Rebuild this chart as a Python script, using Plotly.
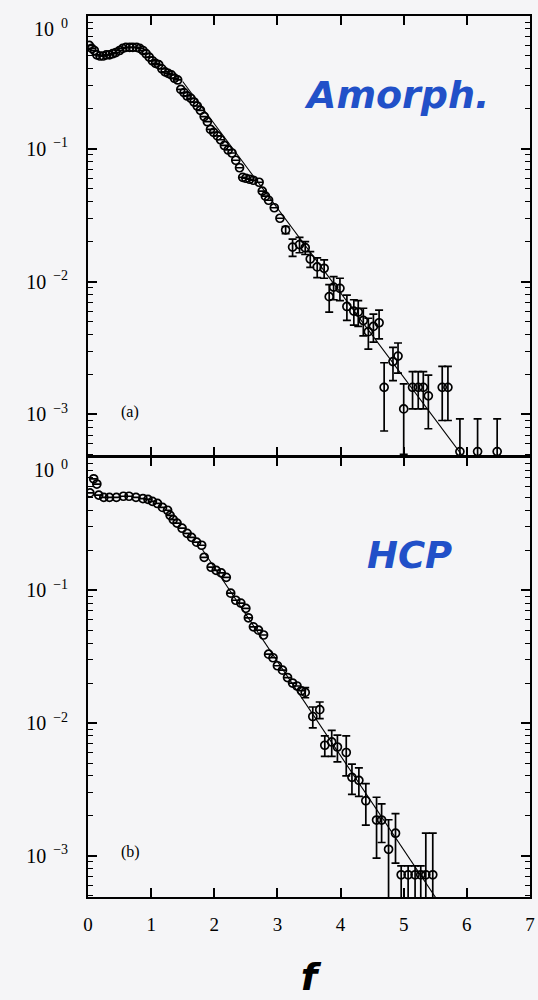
import plotly.graph_objects as go

# ---------------- data ----------------
# (a) amorphous packing: distribution of normalised force f
amorph_f = [0.02, 0.06, 0.10, 0.14, 0.19, 0.24, 0.29, 0.34, 0.39, 0.44, 0.50, 0.55,
            0.60, 0.66, 0.71, 0.77, 0.82, 0.87, 0.92, 0.97, 1.02, 1.07, 1.12, 1.17,
            1.22, 1.27, 1.32, 1.37, 1.42, 1.47, 1.52, 1.57, 1.63, 1.68, 1.73, 1.78,
            1.84, 1.89, 1.94, 1.99, 2.05, 2.10, 2.16, 2.22, 2.28, 2.34, 2.40, 2.45,
            2.50, 2.56, 2.62, 2.71, 2.76, 2.81, 2.86, 2.95, 3.04,
            3.13, 3.24, 3.35, 3.44, 3.52, 3.63, 3.74, 3.82, 3.89, 3.99, 4.10, 4.21,
            4.28, 4.36, 4.44, 4.52, 4.61, 4.69, 4.83, 4.91, 5.00, 5.14, 5.23, 5.31,
            5.39, 5.61, 5.70, 5.89, 6.17, 6.48]
amorph_p = [0.60, 0.57, 0.55, 0.51, 0.50, 0.50, 0.51, 0.51, 0.52, 0.53, 0.55, 0.57,
            0.58, 0.58, 0.58, 0.58, 0.57, 0.55, 0.52, 0.49, 0.46, 0.44, 0.43, 0.40,
            0.38, 0.37, 0.36, 0.34, 0.33, 0.28, 0.265, 0.25, 0.24, 0.225, 0.21, 0.195,
            0.175, 0.16, 0.14, 0.133, 0.125, 0.117, 0.106, 0.098, 0.093, 0.082, 0.072, 0.061,
            0.060, 0.059, 0.058, 0.056, 0.048, 0.044, 0.041, 0.036, 0.030,
            0.0245, 0.0182, 0.019, 0.018, 0.0148, 0.0129, 0.0126, 0.0077, 0.0091, 0.0089, 0.0065, 0.0060,
            0.0059, 0.0051, 0.0042, 0.0046, 0.0049, 0.0016, 0.0025, 0.00275, 0.0011, 0.0016, 0.0016, 0.0016,
            0.00138, 0.0016, 0.0016, 0.000525, 0.000525, 0.000525]
amorph_err = [0.0] * 57 + [
            0.0015, 0.0027, 0.0025, 0.0020, 0.0020, 0.0022, 0.0020, 0.0018, 0.0018, 0.0017, 0.0014, 0.0013,
            0.0013, 0.0012, 0.0011, 0.0011, 0.0012, 0.00085, 0.0007, 0.0007, 0.0006, 0.0005, 0.0005, 0.0005,
            0.0006, 0.0007, 0.0007, 0.0004, 0.0004, 0.0004]

# exponential fit, drawn between two end points
amorph_fit_f = [1.5, 6.1]
amorph_fit_p = [0.321, 0.00038]

# (b) hexagonal close packed
hcp_f = [0.03, 0.09, 0.14, 0.17, 0.25, 0.34, 0.45, 0.56, 0.65, 0.76, 0.87, 0.95,
         1.02, 1.10, 1.18, 1.26, 1.30, 1.35, 1.41, 1.49, 1.57, 1.64, 1.72, 1.80,
         1.84, 1.95, 2.03, 2.11, 2.19, 2.26, 2.34, 2.42, 2.50, 2.54, 2.62, 2.70,
         2.78, 2.86, 2.93, 3.00, 3.08, 3.16, 3.24, 3.31, 3.38,
         3.44, 3.56, 3.67, 3.75, 3.86, 3.95, 4.09, 4.18, 4.29, 4.40, 4.57, 4.65,
         4.76, 4.87, 4.96, 5.07, 5.18, 5.27, 5.35, 5.46]
hcp_p = [0.54, 0.69, 0.63, 0.52, 0.50, 0.50, 0.50, 0.51, 0.51, 0.50, 0.49, 0.483,
         0.467, 0.45, 0.42, 0.40, 0.366, 0.34, 0.32, 0.293, 0.268, 0.25, 0.23, 0.218,
         0.177, 0.149, 0.141, 0.135, 0.125, 0.095, 0.084, 0.080, 0.073, 0.062, 0.053, 0.050,
         0.046, 0.033, 0.031, 0.027, 0.025, 0.022, 0.020, 0.019, 0.0175,
         0.017, 0.0112, 0.0126, 0.0068, 0.0072, 0.0066, 0.0060, 0.0039, 0.0037, 0.0026, 0.00186, 0.00186,
         0.00112, 0.00148, 0.00072, 0.00072, 0.00072, 0.00072, 0.00072, 0.00072]
hcp_err_up = [0.0] * 45 + [
         0.0015, 0.0020, 0.0018, 0.0012, 0.0016, 0.0015, 0.0020, 0.0010, 0.0009, 0.0009, 0.0009, 0.0006,
         0.00075, 0.0006, 0.00012, 0.00012, 0.00012, 0.00012, 0.00076, 0.00076]
hcp_err_down = [0.0] * 45 + [
         0.0015, 0.0020, 0.0018, 0.0012, 0.0016, 0.0015, 0.0020, 0.0010, 0.0009, 0.0009, 0.0009, 0.0006,
         0.00075, 0.0006, 0.0007, 0.0007, 0.0007, 0.0007, 0.0007, 0.0007]

hcp_fit_f = [1.8, 5.8]
hcp_fit_p = [0.206, 0.0003]

x_ticks = [0, 1, 2, 3, 4, 5, 6, 7]
y_ticks = [1, 0.1, 0.01, 0.001]
# the top label sits a little below its tick, hence the leading blank line
y_ticktext = ["<br>10<sup>\u00a0\u00a00</sup>", "10<sup>\u00a0\u00a0\u22121</sup>",
              "10<sup>\u00a0\u00a0\u22122</sup>", "10<sup>\u00a0\u00a0\u22123</sup>"]
minor_y = [k * d for d in (0.0001, 0.001, 0.01, 0.1) for k in range(2, 10)]

# ---------------- figure ----------------
BG = "#f5f5f7"
SERIF = "Liberation Serif"
LABEL_BLUE = "#2150c8"
AXIS_W = 1.8
PLOT_H = 1000 - 16 - 103
# tiny gap so the two panels' frame lines fall on one shared line
half_gap = (AXIS_W / 2) / PLOT_H

marker_style = dict(symbol="circle-open", size=8, color="black", line=dict(width=1.7, color="black"))

fig = go.Figure()


def add_panel(f, p, up, down, fit_f, fit_p, xa, ya):
    fig.add_trace(go.Scatter(x=fit_f, y=fit_p, mode="lines", xaxis=xa, yaxis=ya,
                             line=dict(color="black", width=1.1), showlegend=False))
    fig.add_trace(go.Scatter(
        x=f, y=p, mode="markers", xaxis=xa, yaxis=ya, showlegend=False,
        marker=marker_style,
        error_y=dict(type="data", symmetric=False, array=up, arrayminus=down,
                     color="black", thickness=1.7, width=4)))


add_panel(amorph_f, amorph_p, amorph_err, amorph_err, amorph_fit_f, amorph_fit_p, "x", "y")
add_panel(hcp_f, hcp_p, hcp_err_up, hcp_err_down, hcp_fit_f, hcp_fit_p, "x2", "y2")

xcommon = dict(range=[0, 7], tickmode="array", tickvals=x_ticks, ticks="inside", ticklen=9,
               tickwidth=1.5, tickcolor="black", showline=True, linecolor="black", linewidth=AXIS_W,
               mirror="ticks", showgrid=False, zeroline=False)
ycommon = dict(type="log", range=[-3.31, 0], tickmode="array", tickvals=y_ticks, ticktext=y_ticktext,
               ticks="inside", ticklen=9, tickwidth=1.5, tickcolor="black",
               minor=dict(tickmode="array", tickvals=minor_y, ticks="inside", ticklen=5,
                          tickwidth=1.2, tickcolor="black", showgrid=False),
               showline=True, linecolor="black", linewidth=AXIS_W, mirror="ticks",
               showgrid=False, zeroline=False, ticklabelstandoff=14,
               tickfont=dict(family=SERIF, size=20, color="black"))

big_label = dict(family="DejaVu Sans", color=LABEL_BLUE, weight="bold", style="italic")

fig.update_layout(
    width=538, height=1000,
    margin=dict(l=88, r=3, t=16, b=103),
    paper_bgcolor=BG, plot_bgcolor=BG,
    xaxis=dict(**xcommon, anchor="y", showticklabels=False),
    yaxis=dict(**ycommon, domain=[0.5 + half_gap, 1], anchor="x"),
    xaxis2=dict(**xcommon, anchor="y2", showticklabels=True, ticklabelstandoff=9,
                tickfont=dict(family=SERIF, size=19, color="black"),
                title=dict(text="f", standoff=30,
                           font=dict(family="DejaVu Sans", size=38, color="black",
                                     weight="bold", style="italic"))),
    yaxis2=dict(**ycommon, domain=[0, 0.5 - half_gap], anchor="x2"),
    annotations=[
        dict(text="Amorph.", xref="paper", yref="paper", x=0.698, y=0.910,
             xanchor="center", yanchor="middle", showarrow=False,
             font=dict(size=38, **big_label)),
        dict(text="HCP", xref="paper", yref="paper", x=0.727, y=0.388,
             xanchor="center", yanchor="middle", showarrow=False,
             font=dict(size=37, **big_label)),
        dict(text="(a)", xref="x", yref="y", x=0.67, y=-2.98, showarrow=False,
             font=dict(family=SERIF, size=16, color="black")),
        dict(text="(b)", xref="x2", yref="y2", x=0.67, y=-2.97, showarrow=False,
             font=dict(family=SERIF, size=16, color="black")),
    ],
)

fig.write_html("out.html")
